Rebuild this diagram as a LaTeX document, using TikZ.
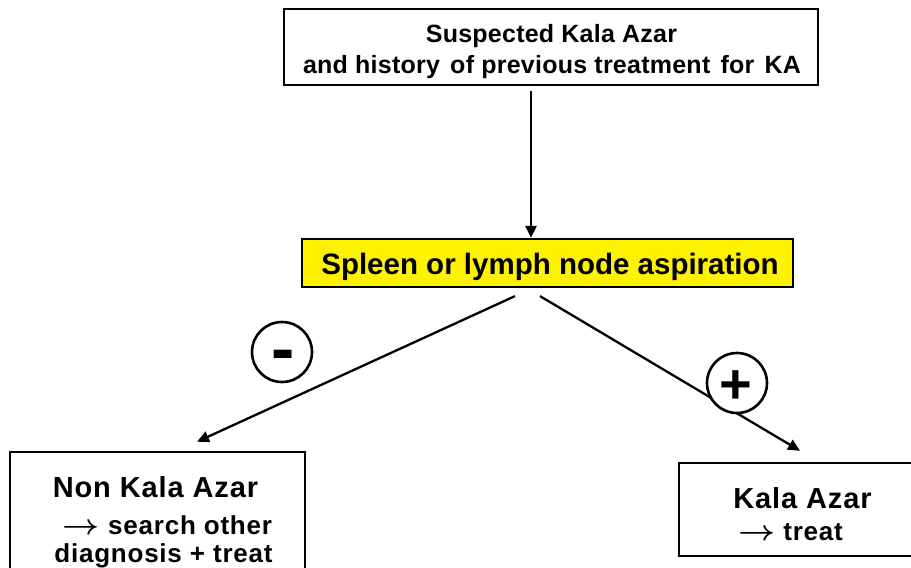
\documentclass[tikz,border=0pt]{standalone}
\usepackage{fontspec}
\usepackage{graphicx}
\setmainfont{Liberation Sans}
\newfontfamily\fa[LetterSpace=1]{Liberation Sans}
\newfontfamily\fb[LetterSpace=3]{Liberation Sans}
\newcommand{\myarr}{\scalebox{1.3}[1.15]{\boldmath$\rightarrow$}}
\usetikzlibrary{arrows.meta}
\begin{document}
\begin{tikzpicture}[x=1pt,y=-1pt,
  box/.style={draw=black, line width=2.5pt, inner sep=0pt, fill=white},
  txt/.style={inner sep=0pt, anchor=base},
  conn/.style={draw=black, line width=2.3pt, -{Triangle[length=12pt,width=11pt]}},
  signc/.style={circle, draw=black, line width=2.6pt, fill=white, minimum size=60pt, inner sep=0pt}]
\clip (0,0) rectangle (911,568);
\fill[white] (0,0) rectangle (911,568);
% boxes
\node[box, minimum width=534pt, minimum height=76pt] (top) at (551,47) {};
\node[box, fill=yellow, line width=2.2pt, minimum width=491pt, minimum height=48pt] (asp) at (547.5,263) {};
\node[box, minimum width=295pt, minimum height=138pt] (nka) at (157.5,521) {};
\node[box, minimum width=246pt, minimum height=93pt] (ka) at (802,509.5) {};
% texts
\node[txt] (t1) at (551.5,42) {\fa\bfseries\fontsize{25}{25}\selectfont Suspected Kala Azar};
\node[txt] (t2) at (552,73) {\fa\bfseries\fontsize{25}{25}\selectfont and history\hspace{3pt} of previous treatment\hspace{3pt} for\hspace{3pt} KA};
\node[txt] (a1) at (550,274) {\bfseries\fontsize{29.5}{30}\selectfont Spleen or lymph node aspiration};
\node[txt] (n1) at (155.5,497) {\fb\bfseries\fontsize{29}{29}\selectfont Non Kala Azar};
\node[txt] (n2) at (167.5,534) {\fb\bfseries\fontsize{26}{26}\selectfont \myarr\ search other};
\node[txt] (n3) at (163.5,562) {\fb\bfseries\fontsize{26}{26}\selectfont diagnosis + treat};
\node[txt] (k1) at (802.5,508) {\fb\bfseries\fontsize{29}{29}\selectfont Kala Azar};
\node[txt] (k2) at (790.5,540) {\fb\bfseries\fontsize{26}{26}\selectfont \myarr\ treat};
% connectors
\draw[conn] ([xshift=-20pt,yshift=-5pt]top.south) -- ([xshift=-16.5pt]asp.north);
\draw[conn] ([xshift=-32.5pt,yshift=-8pt]asp.south) -- ([xshift=39.5pt,yshift=9pt]nka.north);
\draw[conn] ([xshift=-7.5pt,yshift=-8pt]asp.south) -- ([xshift=-2pt,yshift=11pt]ka.north);
% signs
\node[signc] (neg) at (282,352) {};
\node[signc] (pos) at (737,383) {};
\node[txt] (negs) at (283,372) {\bfseries\fontsize{70}{70}\selectfont -};
\node[txt] (poss) at (736,403) {\bfseries\fontsize{56}{56}\selectfont +};
\end{tikzpicture}
\end{document}
